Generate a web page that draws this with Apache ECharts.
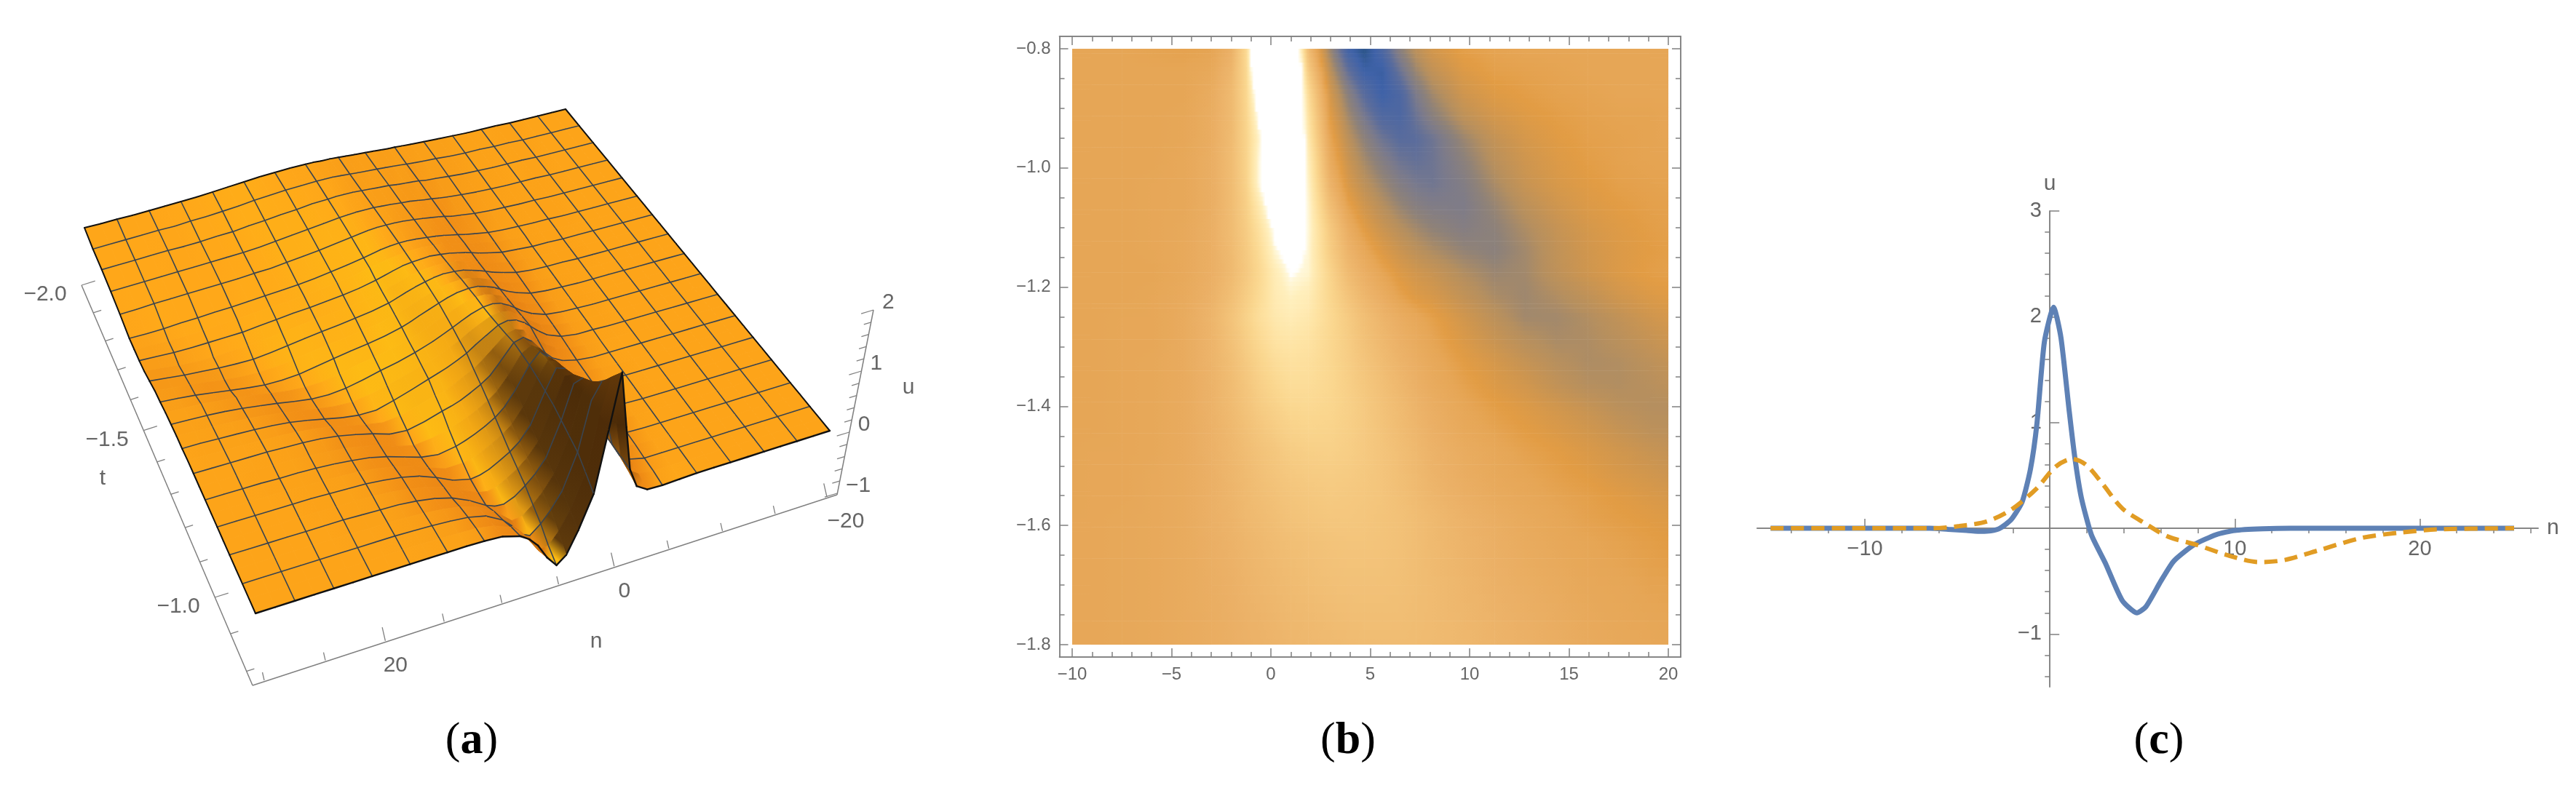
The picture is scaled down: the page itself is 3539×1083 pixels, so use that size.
<!DOCTYPE html>
<html>
<head>
<meta charset="utf-8">
<style>html,body{margin:0;padding:0;background:#fff}#main{width:3539px;height:1083px}</style>
<script src="https://cdn.jsdelivr.net/npm/echarts@6/dist/echarts.min.js"></script>
</head>
<body>
<div id="main"></div>
<script>
// u(n,t) (a) and (b): one row per t, one value per n
var gridN = [-20,-18.44,-16.875,-15.31,-13.75,-12.19,-10.625,-9.06,-7.5,-5.94,-4.375,-3,-2,-1.25,-0.6,0.2,1,1.875,3,3.9,4.7,5.6,6.5,7.3,8.125,9.7,11.25,12.8,14.375,15.94,17.5,19.06,20.625,22.19,23.75,25.31,26.875,28.44,30];
var gridT = [-2,-1.925,-1.85,-1.775,-1.7,-1.625,-1.5875,-1.55,-1.5125,-1.475,-1.4375,-1.4,-1.3625,-1.325,-1.2875,-1.25,-1.2125,-1.175,-1.1375,-1.1,-1.0625,-1.025,-0.9875,-0.95,-0.9125,-0.875,-0.8375,-0.8];
var gridU = [
[0,0,0,0,0,.01,.01,.01,.02,.03,.04,.05,.06,.07,.07,.08,.09,.1,.11,.12,.13,.14,.14,.15,.15,.15,.14,.13,.11,.09,.07,.05,.04,.03,.02,.01,.01,0,0],
[0,0,0,0,0,.01,.01,.02,.02,.03,.05,.06,.07,.08,.09,.1,.11,.12,.13,.14,.15,.16,.17,.17,.17,.16,.15,.13,.11,.08,.06,.04,.03,.01,.01,0,-.01,-.02,-.03],
[0,0,0,0,0,.01,.01,.01,.02,.03,.05,.07,.08,.1,.11,.12,.13,.15,.16,.17,.18,.19,.19,.19,.18,.17,.14,.12,.09,.07,.04,.03,.01,0,0,-.01,-.02,-.03,-.04],
[0,0,0,0,0,.01,.01,.01,.02,.03,.05,.07,.09,.11,.12,.14,.16,.17,.19,.2,.21,.21,.21,.2,.19,.16,.13,.1,.07,.04,.02,.01,0,-.01,-.02,-.03,-.04,-.05,-.06],
[0,0,0,0,0,0,.01,.01,.02,.03,.05,.08,.1,.13,.15,.17,.19,.21,.23,.24,.24,.24,.23,.21,.19,.15,.11,.08,.05,.02,.01,-.01,-.02,-.03,-.04,-.05,-.06,-.08,-.09],
[0,0,0,0,0,0,.01,.01,.02,.03,.05,.09,.12,.15,.17,.2,.22,.24,.26,.27,.27,.26,.24,.21,.18,.13,.09,.05,.02,0,-.02,-.04,-.06,-.07,-.09,-.1,-.12,-.13,-.13],
[0,0,0,0,0,0,.01,.01,.02,.03,.05,.1,.13,.17,.19,.22,.25,.27,.29,.29,.28,.26,.24,.21,.18,.12,.08,.04,.01,-.02,-.04,-.06,-.08,-.1,-.12,-.14,-.15,-.14,-.13],
[0,0,0,0,0,0,0,.01,.01,.03,.05,.1,.14,.18,.21,.24,.27,.29,.31,.3,.29,.27,.23,.19,.15,.09,.05,.02,-.01,-.03,-.06,-.09,-.12,-.13,-.14,-.15,-.15,-.14,-.13],
[0,0,0,0,0,0,0,.01,.01,.03,.05,.1,.15,.19,.23,.27,.3,.32,.33,.32,.3,.27,.22,.18,.13,.07,.03,0,-.03,-.06,-.1,-.13,-.16,-.18,-.2,-.2,-.18,-.15,-.12],
[0,0,0,0,0,0,0,.01,.01,.02,.05,.11,.16,.21,.25,.29,.33,.35,.36,.34,.31,.27,.22,.17,.12,.06,.02,-.02,-.05,-.09,-.13,-.17,-.2,-.2,-.19,-.17,-.15,-.12,-.09],
[0,0,0,0,0,0,0,0,.01,.02,.05,.11,.17,.23,.28,.33,.37,.39,.38,.35,.31,.26,.2,.15,.1,.03,-.01,-.05,-.09,-.13,-.18,-.22,-.235,-.23,-.2,-.16,-.12,-.09,-.06],
[0,0,0,0,0,0,0,0,.01,.02,.05,.12,.19,.26,.32,.37,.41,.42,.4,.36,.31,.25,.19,.13,.08,.01,-.04,-.08,-.13,-.18,-.23,-.25,-.25,-.22,-.18,-.14,-.1,-.07,-.05],
[0,0,0,0,0,0,0,0,.01,.02,.05,.12,.2,.28,.35,.41,.45,.45,.41,.35,.29,.23,.16,.1,.05,-.02,-.08,-.13,-.2,-.25,-.26,-.24,-.2,-.15,-.11,-.08,-.05,-.04,-.03],
[0,0,0,0,0,0,0,0,.01,.02,.05,.13,.22,.31,.38,.45,.48,.47,.41,.34,.27,.2,.13,.08,.03,-.05,-.11,-.18,-.24,-.27,-.26,-.22,-.17,-.13,-.09,-.06,-.04,-.03,-.02],
[0,0,0,0,0,0,0,0,.01,.01,.05,.13,.24,.34,.42,.5,.52,.5,.41,.33,.24,.17,.1,.05,0,-.09,-.17,-.24,-.28,-.27,-.23,-.18,-.13,-.09,-.06,-.04,-.03,-.02,-.01],
[0,0,0,0,0,0,0,0,.01,.01,.05,.14,.26,.37,.46,.54,.57,.54,.42,.32,.22,.14,.07,.02,-.03,-.13,-.22,-.3,-.3,-.26,-.2,-.14,-.09,-.06,-.04,-.03,-.02,-.01,-.01],
[0,0,0,0,0,0,0,0,0,.01,.04,.11,.22,.33,.43,.56,.61,.58,.4,.26,.15,.07,-.02,-.08,-.11,-.2,-.28,-.31,-.26,-.2,-.13,-.08,-.05,-.03,-.02,-.01,-.01,0,0],
[0,0,0,0,0,0,0,0,0,0,.03,.09,.18,.3,.41,.57,.67,.63,.38,.19,.09,0,-.08,-.13,-.17,-.26,-.32,-.3,-.21,-.14,-.08,-.04,-.02,-.01,0,0,0,0,0],
[0,0,0,0,0,0,0,0,0,.01,.03,.09,.19,.31,.44,.64,.73,.64,.33,.13,.02,-.08,-.16,-.22,-.27,-.34,-.37,-.3,-.2,-.13,-.08,-.05,-.03,-.01,-.01,0,0,0,0],
[0,0,0,0,0,0,0,0,0,.01,.03,.09,.2,.33,.48,.7,.82,.65,.3,.07,-.06,-.16,-.24,-.3,-.35,-.4,-.36,-.27,-.18,-.11,-.07,-.04,-.02,-.01,-.01,0,0,0,0],
[0,0,0,0,0,0,0,0,0,.01,.02,.08,.2,.35,.55,.82,.87,.64,.21,-.02,-.14,-.24,-.33,-.39,-.42,-.43,-.33,-.22,-.14,-.08,-.05,-.03,-.02,-.01,0,0,0,0,0],
[0,0,0,0,0,0,0,0,0,.01,.02,.08,.2,.37,.65,.9,.95,.62,.12,-.1,-.22,-.32,-.41,-.46,-.48,-.41,-.28,-.17,-.1,-.06,-.03,-.02,-.01,0,0,0,0,0,0],
[0,0,0,0,0,0,0,0,0,0,.02,.08,.2,.38,.65,1,1.02,.6,.05,-.16,-.29,-.4,-.49,-.52,-.49,-.37,-.23,-.14,-.08,-.04,-.02,-.01,-.01,0,0,0,0,0,0],
[0,0,0,0,0,0,0,0,0,0,.01,.07,.19,.38,.62,1.15,1.1,.55,0,-.22,-.36,-.49,-.56,-.55,-.49,-.32,-.19,-.11,-.06,-.03,-.02,-.01,0,0,0,0,0,0,0],
[0,0,0,0,0,0,0,0,0,0,.01,.07,.18,.39,.7,1.3,1.18,.5,-.06,-.3,-.46,-.6,-.62,-.5,-.38,-.21,-.12,-.07,-.04,-.02,-.01,-.01,0,0,0,0,0,0,0],
[0,0,0,0,0,0,0,0,0,0,0,.06,.18,.4,.8,1.5,1.25,.45,-.12,-.38,-.56,-.7,-.62,-.44,-.3,-.14,-.07,-.04,-.02,-.01,0,0,0,0,0,0,0,0,0],
[0,0,0,0,0,0,0,0,0,0,0,.03,.15,.41,1,1.8,1.22,.33,-.22,-.52,-.7,-.72,-.5,-.32,-.2,-.08,-.03,-.02,-.01,0,0,0,0,0,0,0,0,0,0],
[0,0,0,0,0,0,0,0,0,-.01,-.02,-.01,.1,.42,1.15,2.09,1.18,.2,-.33,-.68,-.8,-.62,-.37,-.22,-.12,-.03,-.01,0,0,0,0,0,0,0,0,0,0,0,0]
];
var meshCols = [0,2,4,6,8,10,13,17,20,24,26,28,30,32,34,36,38];
var meshRows = [0,1,2,3,4,5,7,9,11,13,15,17,19,21,23,25,27];

// panel (c)
var solidN = [-15.1,-10,-6.5,-5.5,-4.5,-3.7,-3.2,-2.7,-2.1,-1.5,-1.05,-0.7,-0.3,0.2,0.6,1.05,1.34,1.7,2.24,3,3.9,4.7,5.2,6,6.7,7.8,9,10,11.5,13,16,20,25.1];
var solidU = [0,0,0,-.01,-.02,-.03,-.025,0,.08,.25,.56,.99,1.76,2.09,1.8,1.1,.68,.29,-.06,-.33,-.68,-.8,-.74,-.5,-.31,-.155,-.06,-.02,-.005,0,0,0,0];
var dashedN = [-15.1,-10,-6.4,-4.9,-3.4,-2.1,-0.75,0.3,1.2,1.95,2.8,3.9,5.2,6.4,7.9,9.7,11.3,12.7,14.5,16.9,19,21,25.1];
var dashedU = [0,0,0,.02,.065,.175,.37,.58,.655,.6,.43,.19,.04,-.08,-.155,-.26,-.32,-.3,-.21,-.09,-.04,-.01,0];

// tick labels
var aTicksT = [-2,-1.5,-1], aTicksN = [-20,0,20], aTicksU = [-1,0,1,2];
var bTicksX = [-10,-5,0,5,10,15,20], bTicksY = [-0.8,-1,-1.2,-1.4,-1.6,-1.8];
var cLabelsX = [-10,10,20], cLabelsY = [-1,1,2,3];
var captions = ['a','b','c'];

var GREY = '#666666', AXIS = '#808080';
var FONT = 'Liberation Sans';

function minus(v, digits){
	var s = digits ? Number(v).toFixed(digits) : String(v);
	return s.replace('-', '\u2212');
}
function range(from, to, step){
	var out = [];
	for (var k = 0; from + k * step <= to + 1e-9; k++) out.push(+(from + k * step).toFixed(3));
	return out;
}
function zip(a, b){
	return a.map(function(v, k){ return [v, b[k]]; });
}
function ramp(stops, v){
	if (v <= stops[0][0]) return stops[0][1];
	for (var k = 1; k < stops.length; k++) {
		if (v <= stops[k][0]) {
			var f = (v - stops[k-1][0]) / (stops[k][0] - stops[k-1][0]);
			return echarts.color.lerp(f, [stops[k-1][1], stops[k][1]]);
		}
	}
	return stops[stops.length-1][1];
}

/* ---------- panel a: surface through a perspective map ---------- */
// screen corners of the u=0 plane: (n=30,t=-2) (n=-20,t=-2) (n=-20,t=-.8) (n=30,t=-.8)
var cx = [116,777,1140,351], cy = [313,150,592,843];
var dx1 = cx[1]-cx[2], dx2 = cx[3]-cx[2], sx = cx[0]-cx[1]+cx[2]-cx[3];
var dy1 = cy[1]-cy[2], dy2 = cy[3]-cy[2], sy = cy[0]-cy[1]+cy[2]-cy[3];
var den = dx1*dy2-dx2*dy1;
var hg = (sx*dy2-dx2*sy)/den, hh = (dx1*sy-sx*dy1)/den;
var ha = cx[1]-cx[0]+hg*cx[1], hb = cx[3]-cx[0]+hh*cx[3];
var hd = cy[1]-cy[0]+hg*cy[1], he = cy[3]-cy[0]+hh*cy[3];
function proj(n, t, u){
	var s = (30-n)/50, r = (t+2)/1.2, w = hg*s+hh*r+1;
	return [(ha*s+hb*r+cx[0])/w + 7*u, (hd*s+he*r+cy[0])/w - 84*u];
}
// lighting: orange flat, yellow on gentle downhill, brown on the steep faces
var shadeStops = [[-1,'#4e2c08'],[-0.5,'#50300a'],[-0.28,'#5e3a0c'],[-0.18,'#96600f'],[-0.12,'#d08c14'],[-0.08,'#f5aa14'],[-0.04,'#fdbb14'],[-0.008,'#ffa819'],[0.012,'#f99e18'],[0.03,'#f29016'],[0.1,'#e98414'],[0.25,'#c06c10'],[0.5,'#8a520e'],[1,'#4a2a08']];
function slopeN(i, j){
	var a = Math.max(i-1,0), b = Math.min(i+1,gridN.length-1);
	return (gridU[j][b]-gridU[j][a])/(gridN[b]-gridN[a]);
}
function slopeT(i, j){
	var a = Math.max(j-1,0), b = Math.min(j+1,gridT.length-1);
	return (gridU[b][i]-gridU[a][i])/(gridT[b]-gridT[a]);
}
function shadeAt(i, j){
	var sn = (slopeN(i,j)+slopeN(i,j+1))/2, st = (slopeT(i,j)+slopeT(i,j+1))/2;
	var c = ramp(shadeStops, sn);
	// only the ridge darkens towards the viewer, the trough stays orange
	if (gridU[j][i] < 0.12) return c;
	var d = Math.max(0.15, Math.min(1, 1-(st-0.8)/1.5));
	return d < 1 ? echarts.color.lerp(1-d, [c,'#4a2a08']) : c;
}
var patches = [];
for (var pj = 0; pj < gridT.length-1; pj++) {
	for (var pi = 0; pi < gridN.length-1; pi++) patches.push([pi,pj]);
}
function renderPatch(params, api){
	var i = api.value(0), j = api.value(1);
	function pt(a, b){ return api.coord(proj(gridN[a], gridT[b], gridU[b][a])); }
	var p00 = pt(i,j), p10 = pt(i+1,j), p11 = pt(i+1,j+1), p01 = pt(i,j+1);
	var fill = new echarts.graphic.LinearGradient(
		(p00[0]+p01[0])/2, (p00[1]+p01[1])/2, (p10[0]+p11[0])/2, (p10[1]+p11[1])/2,
		[{offset:0,color:shadeAt(i,j)},{offset:1,color:shadeAt(i+1,j)}], true);
	var kids = [{type:'polygon',shape:{points:[p00,p10,p11,p01]},style:{fill:fill,stroke:fill,lineWidth:1}}];
	function edge(a, b, color, width){
		kids.push({type:'line',shape:{x1:a[0],y1:a[1],x2:b[0],y2:b[1]},style:{stroke:color,lineWidth:width,lineCap:'round'}});
	}
	var meshC = '#3a444f';
	if (j > 0 && meshRows.indexOf(j) >= 0) edge(p00,p10,meshC,1.6);
	if (i > 0 && meshCols.indexOf(i) >= 0) edge(p00,p01,meshC,1.6);
	if (i+1 === gridN.length-1) edge(p10,p11,'#111',2);
	if (j === 0) edge(p00,p10,'#111',2);
	if (i === 0) edge(p00,p01,'#111',2);
	if (j+1 === gridT.length-1) edge(p01,p11,'#111',2.4);
	return {type:'group',children:kids};
}
// box edges and their ticks, mapped along each edge
function along(a, b, s, w){
	var f = s/(s+w*(1-s));
	return [a[0]+(b[0]-a[0])*f, a[1]+(b[1]-a[1])*f];
}
function tOnAxis(t){ return along([112,392],[295,821],t+2,1.15); }
function nOnAxis(n){ return along([1136,683],[363,935],(n+20)/50,1.097); }
function uOnAxis(u){ return [1150+16.7*(u+1), 678-84*(u+1)]; }
function renderBox(params, api){
	var kids = [];
	function ln(a, b, width){
		var p = api.coord(a), q = api.coord(b);
		kids.push({type:'line',shape:{x1:p[0],y1:p[1],x2:q[0],y2:q[1]},style:{stroke:AXIS,lineWidth:width}});
	}
	function txt(s, x, y, align){
		var p = api.coord([x,y]);
		kids.push({type:'text',style:{text:s,x:p[0],y:p[1],fill:GREY,font:'30px "'+FONT+'"',align:align||'center',verticalAlign:'middle'}});
	}
	ln([112,392],[347,942],1.5); ln([347,942],[1150,680],1.5); ln([1150,680],[1200,426],1.5);
	range(-2,-0.8,0.1).forEach(function(t){
		var p = tOnAxis(t), major = aTicksT.indexOf(t) >= 0, L = major ? 1.7 : 1;
		ln(p,[p[0]+11*L,p[1]-3.5*L],1.3);
	});
	range(-20,30,5).forEach(function(n){
		var p = nOnAxis(n), major = aTicksN.indexOf(n) >= 0, L = major ? 1.7 : 1;
		ln(p,[p[0]-2.5*L,p[1]-11*L],1.3);
	});
	range(-1,2,0.2).forEach(function(u){
		var p = uOnAxis(u), major = aTicksU.indexOf(u) >= 0, L = major ? 1.7 : 1;
		ln(p,[p[0]-10*L,p[1]+3*L],1.3);
	});
	aTicksT.forEach(function(t){ var p = tOnAxis(t); txt(minus(t,1),p[0]-50,p[1]+13); });
	aTicksN.forEach(function(n){ var p = nOnAxis(n); txt(minus(n),p[0]+(n<0?26:14),p[1]+34); });
	aTicksU.forEach(function(u){ var p = uOnAxis(u); txt(minus(u),p[0]+12,p[1]-10,'left'); });
	txt('t',141,658); txt('n',819,882); txt('u',1248,533);
	return {type:'group',children:kids};
}

/* ---------- panel b: same u(n,t) as a density ---------- */
var densityStops = [[-1,'#1f4a78'],[-0.8,'#2a5488'],[-0.7,'#3f62a8'],[-0.55,'#5a6c9c'],[-0.45,'#7a7a8c'],[-0.35,'#8f8278'],[-0.25,'#b58f5f'],[-0.15,'#cc9550'],[-0.05,'#e29c44'],[0,'#e6a656'],[0.1,'#ebb066'],[0.2,'#f0bc72'],[0.3,'#f5c87f'],[0.4,'#fad68e'],[0.5,'#fee3a3'],[0.6,'#ffefbd'],[0.65,'#fff8dc'],[0.66,'#ffffff']];
var cells = [];
for (var cj = 0; cj < gridT.length-1; cj++) {
	for (var ci = 0; ci < gridN.length-1; ci++) {
		if (gridN[ci+1] > -10 && gridN[ci] < 20 && gridT[cj+1] > -1.8) cells.push([ci,cj]);
	}
}
function renderCell(params, api){
	var i = api.value(0), j = api.value(1), kids = [], STRIPS = 5, STOPS = 6;
	var tl = api.coord([-10,-0.8]), br = api.coord([20,-1.8]);
	var clip = {x:tl[0],y:tl[1],width:br[0]-tl[0],height:br[1]-tl[1]};
	var xa = api.coord([gridN[i],-1])[0], xb = api.coord([gridN[i+1],-1])[0];
	for (var k = 0; k < STRIPS; k++) {
		var f = (k+0.5)/STRIPS, stops = [];
		for (var m = 0; m < STOPS; m++) {
			var g = m/(STOPS-1);
			var top = gridU[j][i]+(gridU[j][i+1]-gridU[j][i])*g;
			var bot = gridU[j+1][i]+(gridU[j+1][i+1]-gridU[j+1][i])*g;
			stops.push({offset:g,color:ramp(densityStops,top+(bot-top)*f)});
		}
		// t rises to the front, so the strip sits between the two t values
		var y0 = api.coord([0,gridT[j]+(gridT[j+1]-gridT[j])*k/STRIPS])[1];
		var y1 = api.coord([0,gridT[j]+(gridT[j+1]-gridT[j])*(k+1)/STRIPS])[1];
		var rect = echarts.graphic.clipRectByRect({x:xa,y:y1,width:xb-xa+0.6,height:y0-y1+0.6},clip);
		if (rect) kids.push({type:'rect',shape:rect,style:{fill:new echarts.graphic.LinearGradient(xa,0,xb,0,stops,true)}});
	}
	return {type:'group',children:kids};
}

/* ---------- axes ---------- */
function hiddenAxis(extra){
	return Object.assign({type:'value',show:false,gridIndex:0},extra);
}
function frameAxis(gridIndex, position, min, max, ticks, len, labels, fmt){
	return {
		type:'value',gridIndex:gridIndex,position:position,min:min,max:max,splitLine:{show:false},
		axisLine:{show:true,onZero:false,lineStyle:{color:AXIS,width:1.5}},
		axisTick:{show:true,inside:true,length:len,customValues:ticks,lineStyle:{color:AXIS,width:1.5}},
		axisLabel:labels ? {show:true,customValues:labels,formatter:fmt,color:GREY,fontFamily:FONT,fontSize:24,margin:12} : {show:false}
	};
}
// labels of an onZero axis stay on the grid edge here, margin brings them back to the axis
function crossAxis(min, max, ticks, len, labels, margin, name, gap){
	return {
		type:'value',gridIndex:2,min:min,max:max,splitLine:{show:false},
		name:name,nameGap:gap,nameLocation:'end',
		nameTextStyle:{color:GREY,fontFamily:FONT,fontSize:30},
		axisLine:{show:true,onZero:true,lineStyle:{color:AXIS,width:1.5}},
		axisTick:{show:true,inside:true,length:len,customValues:ticks,lineStyle:{color:AXIS,width:1.5}},
		axisLabel:labels ? {show:true,customValues:labels,formatter:function(v){return minus(v);},color:GREY,fontFamily:FONT,fontSize:29,margin:margin} : {show:false}
	};
}
var fmtX = function(v){ return minus(v); };
var fmtY = function(v){ return minus(v,1); };
var BX = [-10.64,20.62], BY = [-1.8208,-0.7792];
var cMinorX = range(-14,26,2).filter(function(v){ return v % 10 !== 0; });
var cMinorY = range(-1.4,3,0.2).filter(function(v){ return Math.abs(v-Math.round(v)) > 0.01; });

function caption(letter, x){
	return {type:'text',x:x,y:1019,style:{
		text:'{r|(}{b|'+letter+'}{r|)}',align:'center',verticalAlign:'middle',
		rich:{
			r:{font:'62px "Liberation Serif"',fill:'#000'},
			b:{font:'bold 62px "Liberation Serif"',fill:'#000'}
		}
	}};
}

var chart = echarts.init(document.getElementById('main'));
chart.setOption({
	backgroundColor:'#ffffff',
	animation:false,
	grid:[
		{left:0,top:0,width:1300,height:1083},
		{left:1455.5,top:50,width:853.5,height:853},
		{left:2414,top:290,width:1073,height:654}
	],
	xAxis:[
		hiddenAxis({min:0,max:1300}),
		frameAxis(1,'bottom',BX[0],BX[1],bTicksX,12,bTicksX,fmtX),
		frameAxis(1,'top',BX[0],BX[1],bTicksX,12),
		frameAxis(1,'bottom',BX[0],BX[1],range(-10,20,1),7),
		frameAxis(1,'top',BX[0],BX[1],range(-10,20,1),7),
		crossAxis(-15.83,26.4,cLabelsX,13,cLabelsX,-204,'n',12),
		crossAxis(-15.83,26.4,cMinorX,7)
	],
	yAxis:[
		hiddenAxis({min:0,max:1083,inverse:true}),
		frameAxis(1,'left',BY[0],BY[1],bTicksY,12,bTicksY,fmtY),
		frameAxis(1,'right',BY[0],BY[1],bTicksY,12),
		frameAxis(1,'left',BY[0],BY[1],range(-1.8,-0.8,0.05),7),
		frameAxis(1,'right',BY[0],BY[1],range(-1.8,-0.8,0.05),7),
		crossAxis(-1.5,3,cLabelsY,13,cLabelsY,-391,'u',22),
		crossAxis(-1.5,3,cMinorY,7)
	],
	series:[
		{type:'custom',coordinateSystem:'cartesian2d',xAxisIndex:0,yAxisIndex:0,data:[[0,0]],renderItem:renderBox,clip:false,silent:true,z:1},
		{type:'custom',coordinateSystem:'cartesian2d',xAxisIndex:0,yAxisIndex:0,data:patches,renderItem:renderPatch,clip:false,silent:true,z:2},
		{type:'custom',coordinateSystem:'cartesian2d',xAxisIndex:1,yAxisIndex:1,data:cells,renderItem:renderCell,clip:false,silent:true,z:1},
		{type:'line',xAxisIndex:5,yAxisIndex:5,data:zip(solidN,solidU),smooth:0.2,symbol:'none',silent:true,z:3,
			lineStyle:{color:'#5e81b5',width:7}},
		{type:'line',xAxisIndex:5,yAxisIndex:5,data:zip(dashedN,dashedU),smooth:0.3,symbol:'none',silent:true,z:4,
			lineStyle:{color:'#e19c24',width:6,type:[18,10]}}
	],
	graphic:[caption(captions[0],648),caption(captions[1],1852),caption(captions[2],2966)]
});
</script>
</body>
</html>
